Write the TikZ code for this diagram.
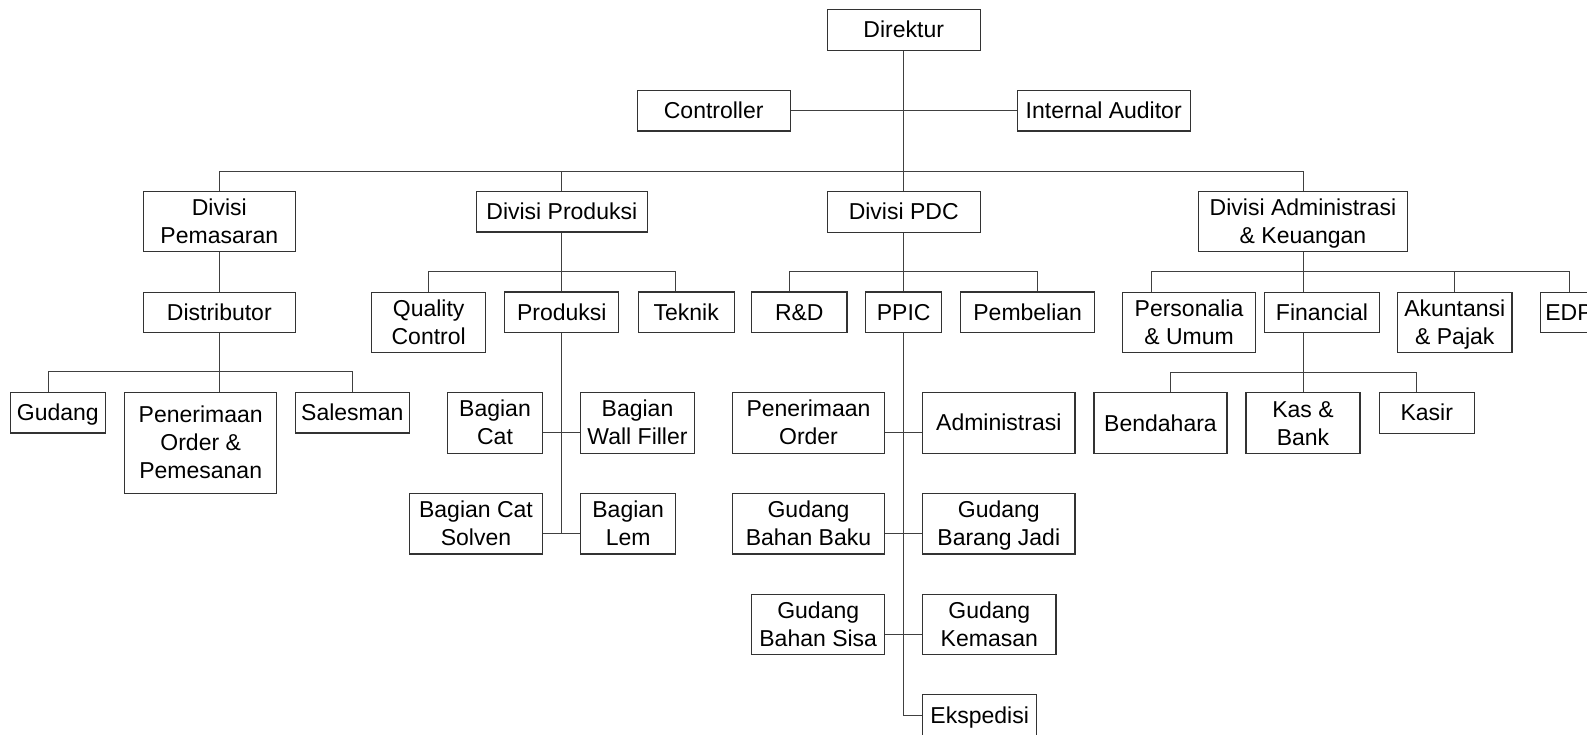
\documentclass[tikz,border=0pt]{standalone}
\usepackage{fontspec}
\setmainfont{Liberation Sans}
\begin{document}
\begin{tikzpicture}[x=1pt, y=-1pt,
    box/.style={draw=black!80, line width=1.1pt, minimum width=#1, minimum height=40.5pt,
      inner sep=0pt, align=center, text height=21pt, text depth=5pt},
    twoline/.style={minimum height=60.5pt, text height=49pt},
    threeline/.style={minimum height=101pt, text height=77pt},
    highbox/.style={minimum height=60.5pt},
    line/.style={draw=black!75, line width=1pt}]

  \newcommand\BOXFONT{\fontsize{23}{28}\selectfont}
  \tikzset{every node/.style={font=\BOXFONT}}

  \useasboundingbox (0, 0) rectangle (1587, 734);

  % top
  \node[box=152.7] (direktur) at (903.7, 29.8) {Direktur};
  \node[box=152.7] (controller) at (713.7, 110.7) {Controller};
  \node[box=172.7] (auditor) at (1103.7, 110.7) {Internal Auditor};

  % divisi
  \node[box=152, twoline] (pemasaran) at (219.3, 221.5) {Divisi\\Pemasaran};
  \node[box=171] (divproduksi) at (561.8, 211.7) {Divisi Produksi};
  \node[box=152.7] (divpdc) at (903.7, 211.8) {Divisi PDC};
  \node[box=208.6, twoline] (divadm) at (1303, 221.5) {Divisi Administrasi\\\& Keuangan};

  % pemasaran
  \node[box=152] (distributor) at (219.3, 312.3) {Distributor};
  \node[box=95] (gudang) at (57.8, 412.7) {Gudang};
  \node[box=152, threeline] (penerimaan) at (200.7, 442.8) {Penerimaan\\Order \&\\Pemesanan};
  \node[box=114] (salesman) at (352.3, 412.7) {Salesman};

  % produksi
  \node[box=114, twoline] (qc) at (428.7, 322.3) {Quality\\Control};
  \node[box=114] (produksi) at (561.8, 312.2) {Produksi};
  \node[box=95.7] (teknik) at (686.2, 312.2) {Teknik};
  \node[box=95.4, twoline] (cat) at (495, 422.8) {Bagian\\Cat};
  \node[box=113.6, twoline] (wallfiller) at (637.5, 422.8) {Bagian\\Wall Filler};
  \node[box=133.4, twoline] (solven) at (476, 523.7) {Bagian Cat\\Solven};
  \node[box=95, twoline] (lem) at (628.2, 523.7) {Bagian\\Lem};

  % pdc
  \node[box=95.3] (rnd) at (799.3, 312.2) {R\&D};
  \node[box=76.3] (ppic) at (903.7, 312.2) {PPIC};
  \node[box=134] (pembelian) at (1027.7, 312.2) {Pembelian};
  \node[box=152.4, twoline] (order) at (808.5, 422.8) {Penerimaan\\Order};
  \node[box=152.3, highbox] (administrasi) at (998.8, 422.8) {Administrasi};
  \node[box=152.4, twoline] (bahanbaku) at (808.5, 523.7) {Gudang\\Bahan Baku};
  \node[box=152.3, twoline] (barangjadi) at (998.8, 523.7) {Gudang\\Barang Jadi};
  \node[box=133, twoline] (bahansisa) at (818.2, 624.5) {Gudang\\Bahan Sisa};
  \node[box=133.3, twoline] (kemasan) at (989.3, 624.5) {Gudang\\Kemasan};
  \node[box=114.3] (ekspedisi) at (979.7, 715) {Ekspedisi};

  % administrasi & keuangan
  \node[box=133.4, twoline] (personalia) at (1189, 322.5) {Personalia\\\& Umum};
  \node[box=114.6] (financial) at (1322, 312.3) {Financial};
  \node[box=114.3, twoline] (akuntansi) at (1454.8, 322.5) {Akuntansi\\\& Pajak};
  \node[box=57] (edp) at (1569, 312.3) {EDP};
  \node[box=133, highbox] (bendahara) at (1160.5, 423) {Bendahara};
  \node[box=114, twoline] (kasbank) at (1303, 423) {Kas \&\\Bank};
  \node[box=95.3] (kasir) at (1426.7, 412.8) {Kasir};

  \draw[line] (direktur) -- (divpdc);
  \draw[line] (controller) -- (auditor);
  \draw[line] (pemasaran.north) -- ++(0, -19.6) -| (divadm.north);
  \draw[line] (divproduksi.north) -- ++(0, -19.6);

  \draw[line] (pemasaran) -- (distributor);
  \draw[line] (distributor.south) -- (distributor.south |- penerimaan.north);
  \draw[line] ([xshift=-9.5pt]gudang.north) -- ++(0, -20) -| (salesman.north);

  \draw[line] (divproduksi) -- (produksi);
  \draw[line] (qc.north) -- ++(0, -20) -| ([xshift=-10.5pt]teknik.north);
  \draw[line] (produksi.south) |- ([yshift=-10pt]lem.west);
  \draw[line] ([yshift=-10pt]cat.east) -- ([yshift=-10pt]wallfiller.west);
  \draw[line] ([yshift=-10pt]solven.east) -- ([yshift=-10pt]lem.west);

  \draw[line] (divpdc) -- (ppic);
  \draw[line] ([xshift=-10pt]rnd.north) -- ++(0, -20) -| ([xshift=9.3pt]pembelian.north);
  \draw[line] (ppic.south) |- (ekspedisi.west);
  \draw[line] ([yshift=-10pt]order.east) -- ([yshift=-10pt]administrasi.west);
  \draw[line] ([yshift=-10pt]bahanbaku.east) -- ([yshift=-10pt]barangjadi.west);
  \draw[line] ([yshift=-10pt]bahansisa.east) -- ([yshift=-10pt]kemasan.west);

  \draw[line] (divadm.south) -- (divadm.south |- financial.north);
  \draw[line] ([xshift=-38pt]personalia.north) -- ++(0, -20) -| (edp.north);
  \draw[line] (akuntansi.north) -- ++(0, -20);
  \draw[line] (divadm.south |- financial.south) -- (kasbank.north);
  \draw[line] ([xshift=9.5pt]bendahara.north) -- ++(0, -20) -| ([xshift=-10pt]kasir.north);

\end{tikzpicture}
\end{document}
